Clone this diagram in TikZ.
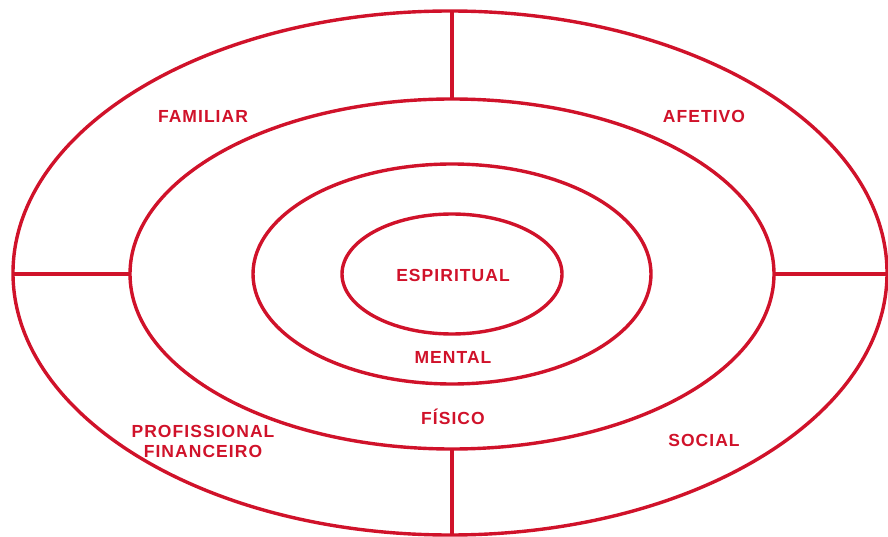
\documentclass[tikz,border=0pt]{standalone}
\usepackage{fontspec}
\usepackage{xcolor}
\usepackage{tikz}
\usetikzlibrary{positioning}
\newfontfamily\areafont[LetterSpace=6]{Liberation Sans}
\definecolor{ringred}{RGB}{208,18,42}

\begin{document}
\begin{tikzpicture}[x=1pt, y=-1pt,
    ring/.style={draw=ringred, line width=3.4pt},
    area/.style={text=ringred, font=\areafont\bfseries\fontsize{17.5}{20}\selectfont, align=center}]
        \useasboundingbox (0,0) rectangle (888,537);
        % Rings, from outside in
        \coordinate (centre) at (452,274);
        \draw[ring] (450,273) ellipse [x radius=437pt, y radius=262pt];
        \draw[ring] (centre) ellipse [x radius=322pt, y radius=175pt];
        \draw[ring] (centre) ellipse [x radius=199pt, y radius=110pt];
        \draw[ring] (centre) ellipse [x radius=110pt, y radius=60pt];
        % Dividers in the outer ring
        \coordinate (outerN) at (452,11);
        \coordinate (innerN) at (452,99);
        \coordinate (outerS) at (452,536);
        \coordinate (innerS) at (452,449);
        \coordinate (outerW) at (13,274);
        \coordinate (innerW) at (130,274);
        \coordinate (outerE) at (888,274);
        \coordinate (innerE) at (774,274);
        \draw[ring] (outerN) -- (innerN);
        \draw[ring] (innerS) -- (outerS);
        \draw[ring] (outerW) -- (innerW);
        \draw[ring] (innerE) -- (outerE);
        % Labels
        \node (familiar) [area] at (203,116) {FAMILIAR};
        \node (afetivo) [area] at (704,116) {AFETIVO};
        \node (espiritual) [area] at (453,275) {ESPIRITUAL};
        \node (mental) [area] at (453,357) {MENTAL};
        \node (fisico) [area] at (453,417) {FÍSICO};
        \node (profissional) [area] at (203,441) {PROFISSIONAL\\FINANCEIRO};
        \node (social) [area] at (704,440) {SOCIAL};
    \end{tikzpicture}
\end{document}
